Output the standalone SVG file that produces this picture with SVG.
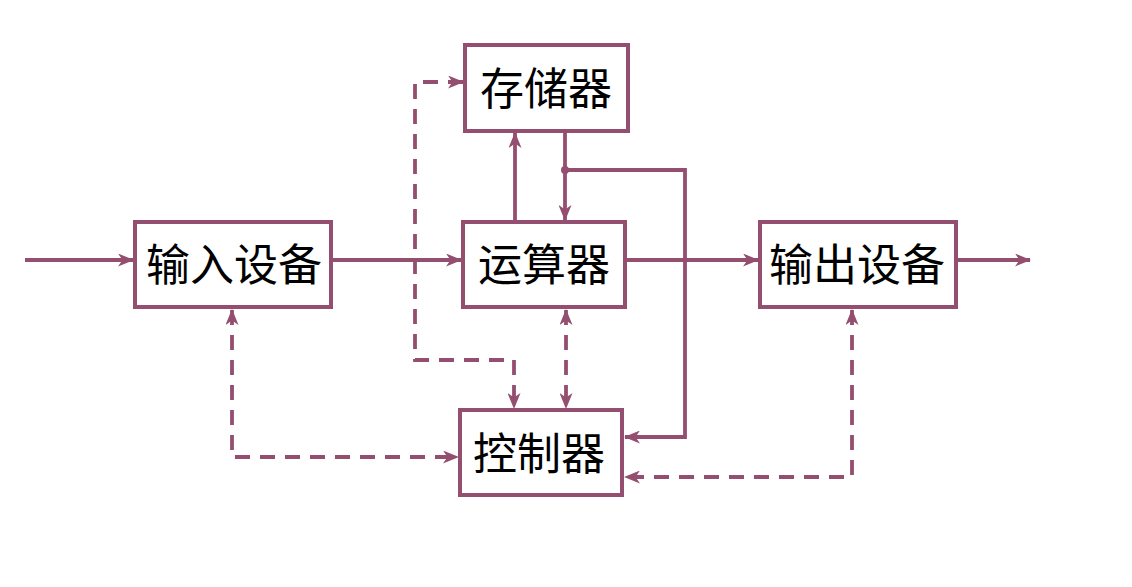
<svg xmlns="http://www.w3.org/2000/svg" width="1132" height="587" viewBox="0 0 1132 587">
<style>
.box{fill:#fff;stroke:#944E70;stroke-width:4}
.lbl{font-family:"Noto Sans CJK SC","Noto Sans",sans-serif;font-size:44px;fill:#000;text-anchor:middle;dominant-baseline:central}
.ln{fill:none;stroke:#944E70;stroke-width:3.8}
.dash{stroke-dasharray:15 10}
</style>
<defs>
<marker id="ah" viewBox="0 0 16 13" refX="15" refY="6.5" markerWidth="16" markerHeight="13" markerUnits="userSpaceOnUse" orient="auto-start-reverse">
<path d="M0,0 L16,6.5 L0,13 L4.5,6.5 z" fill="#944E70"/>
</marker>
</defs>
<g id="connectors">
<line class="ln" x1="25" y1="260" x2="133" y2="260" marker-end="url(#ah)"/>
<line class="ln" x1="333" y1="260" x2="461" y2="260" marker-end="url(#ah)"/>
<line class="ln" x1="627" y1="260" x2="758" y2="260" marker-end="url(#ah)"/>
<line class="ln" x1="958" y1="260" x2="1030" y2="260" marker-end="url(#ah)"/>
<line class="ln" x1="515" y1="221" x2="515" y2="133" marker-end="url(#ah)"/>
<line class="ln" x1="565" y1="133" x2="565" y2="220" marker-end="url(#ah)"/>
<circle cx="565" cy="170" r="4" fill="#944E70"/>
<polyline class="ln" points="565,170 685,170 685,437 625,437" marker-end="url(#ah)"/>
<polyline class="ln dash" points="463,82 415,82 415,360 514,360 514,408" marker-start="url(#ah)" marker-end="url(#ah)"/>
<line class="ln dash" x1="566" y1="310" x2="566" y2="408" marker-start="url(#ah)" marker-end="url(#ah)"/>
<polyline class="ln dash" points="232,310 232,457 458,457" marker-start="url(#ah)" marker-end="url(#ah)"/>
<polyline class="ln dash" points="852,310 852,477 625,477" marker-start="url(#ah)" marker-end="url(#ah)"/>
</g>
<g id="memory"><rect class="box" x="465" y="45" width="163" height="86"/><text class="lbl" x="546" y="86">存储器</text></g>
<g id="alu"><rect class="box" x="463" y="222" width="162" height="85"/><text class="lbl" x="544" y="262">运算器</text></g>
<g id="controller"><rect class="box" x="460" y="410" width="162" height="85"/><text class="lbl" x="539" y="451">控制器</text></g>
<g id="input"><rect class="box" x="135" y="222" width="196" height="85"/><text class="lbl" x="234" y="262">输入设备</text></g>
<g id="output"><rect class="box" x="760" y="222" width="196" height="85"/><text class="lbl" x="857" y="262">输出设备</text></g>
</svg>
